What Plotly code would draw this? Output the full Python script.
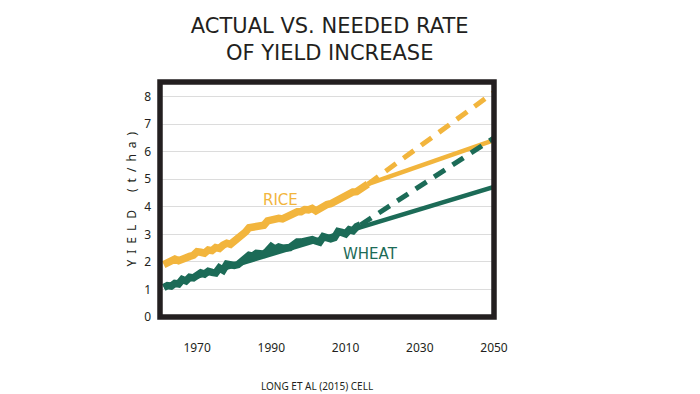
import plotly.graph_objects as go

# ---- data ----
years_actual_rice = list(range(1961, 2017))
rice_actual = [1.90, 1.96, 2.03, 2.10, 2.04, 2.07, 2.12, 2.20, 2.24, 2.37,
               2.35, 2.32, 2.43, 2.41, 2.52, 2.49, 2.61, 2.68, 2.64, 2.75,
               2.82, 2.97, 3.08, 3.24, 3.25, 3.27, 3.29, 3.33, 3.49, 3.53,
               3.52, 3.58, 3.56, 3.62, 3.66, 3.78, 3.82, 3.82, 3.90, 3.89,
               3.94, 3.85, 3.95, 4.00, 4.08, 4.11, 4.18, 4.30, 4.31, 4.37,
               4.46, 4.54, 4.55, 4.62, 4.70, 4.82]

years_actual_wheat = list(range(1961, 2015))
wheat_actual = [1.07, 1.14, 1.12, 1.22, 1.20, 1.36, 1.31, 1.44, 1.42, 1.50,
                1.60, 1.56, 1.66, 1.62, 1.60, 1.78, 1.70, 1.92, 1.86, 1.87,
                1.90, 2.02, 2.12, 2.24, 2.21, 2.31, 2.30, 2.28, 2.40, 2.55,
                2.46, 2.54, 2.50, 2.48, 2.52, 2.62, 2.72, 2.72, 2.75, 2.74,
                2.81, 2.76, 2.72, 2.92, 2.86, 2.84, 2.88, 3.10, 3.07, 3.02,
                3.17, 3.13, 3.28, 3.34]

rice_proj_years = [2016, 2050]
rice_trend = [4.82, 6.42]
rice_needed = [4.82, 8.16]

wheat_trend_years = [1961, 2050]
wheat_trend = [1.10, 4.72]
wheat_needed_years = [2014, 2050]
wheat_needed = [3.34, 6.50]

x_ticks = [1970, 1990, 2010, 2030, 2050]
y_ticks = [0, 1, 2, 3, 4, 5, 6, 7, 8]

RICE = "#F2B53D"
WHEAT = "#1C6B57"
DARK = "#231F20"
FONT = "Noto Sans"
WIDE = "DejaVu Sans"

fig = go.Figure()

# wheat
fig.add_trace(go.Scatter(x=wheat_trend_years, y=wheat_trend, mode="lines",
                         line=dict(color=WHEAT, width=4.5), hoverinfo="skip"))
fig.add_trace(go.Scatter(x=years_actual_wheat, y=wheat_actual, mode="lines",
                         line=dict(color=WHEAT, width=7.5)))
# rice
fig.add_trace(go.Scatter(x=rice_proj_years, y=rice_trend, mode="lines",
                         line=dict(color=RICE, width=4.5), hoverinfo="skip"))
fig.add_trace(go.Scatter(x=rice_proj_years, y=rice_needed, mode="lines",
                         line=dict(color=RICE, width=5, dash="13px,9px"), hoverinfo="skip"))
fig.add_trace(go.Scatter(x=years_actual_rice, y=rice_actual, mode="lines",
                         line=dict(color=RICE, width=7.5)))
# wheat needed dashed drawn over rice trend near 2050
fig.add_trace(go.Scatter(x=wheat_needed_years, y=wheat_needed, mode="lines",
                         line=dict(color=WHEAT, width=5, dash="13px,9px"), hoverinfo="skip"))

fig.add_annotation(x=1992.5, y=4.24, text="RICE", showarrow=False,
                   font=dict(family=WIDE, size=15, color=RICE))
fig.add_annotation(x=2016.7, y=2.29, text="WHEAT", showarrow=False,
                   font=dict(family=WIDE, size=15, color=WHEAT))

gap = "\u2002"
ytitle = gap.join(list("YIELD")) + gap * 3 + gap.join(["(", "t", "/", "h", "a", ")"])
fig.add_annotation(xref="paper", yref="paper", x=-0.118, y=0.5, yanchor="middle",
                   text=ytitle, textangle=-90, showarrow=False,
                   font=dict(family=FONT, size=12, color=DARK))

fig.add_annotation(xref="paper", yref="paper", x=0.47, y=-0.294, yanchor="middle",
                   text="LONG ET AL (2015) CELL", showarrow=False,
                   font=dict(family=FONT, size=10, color=DARK))

fig.add_shape(type="rect", xref="paper", yref="paper", x0=0, x1=1, y0=0, y1=1,
              line=dict(color=DARK, width=5.5), layer="above")

fig.update_layout(
    width=700, height=394,
    margin=dict(l=160, r=206, t=82, b=77),
    paper_bgcolor="white", plot_bgcolor="white",
    showlegend=False,
    title=dict(text="ACTUAL VS. NEEDED RATE<br>OF YIELD INCREASE",
               x=0.471, xanchor="center", y=0.916, yanchor="middle",
               font=dict(family=WIDE, size=21, color=DARK)),
    xaxis=dict(range=[1960, 2050], tickvals=x_ticks, showgrid=False, zeroline=False,
               ticks="", ticklabelstandoff=22,
               tickfont=dict(family=FONT, size=12, color=DARK)),
    yaxis=dict(range=[0, 8.53], tickvals=y_ticks, showgrid=True, gridcolor="#DCDCDC",
               gridwidth=1, zeroline=False, ticks="", ticklabelstandoff=8,
               tickfont=dict(family=FONT, size=12, color=DARK)),
)

fig.write_html("out.html", config={"displayModeBar": False},
               post_script="document.body.style.margin='0';")
